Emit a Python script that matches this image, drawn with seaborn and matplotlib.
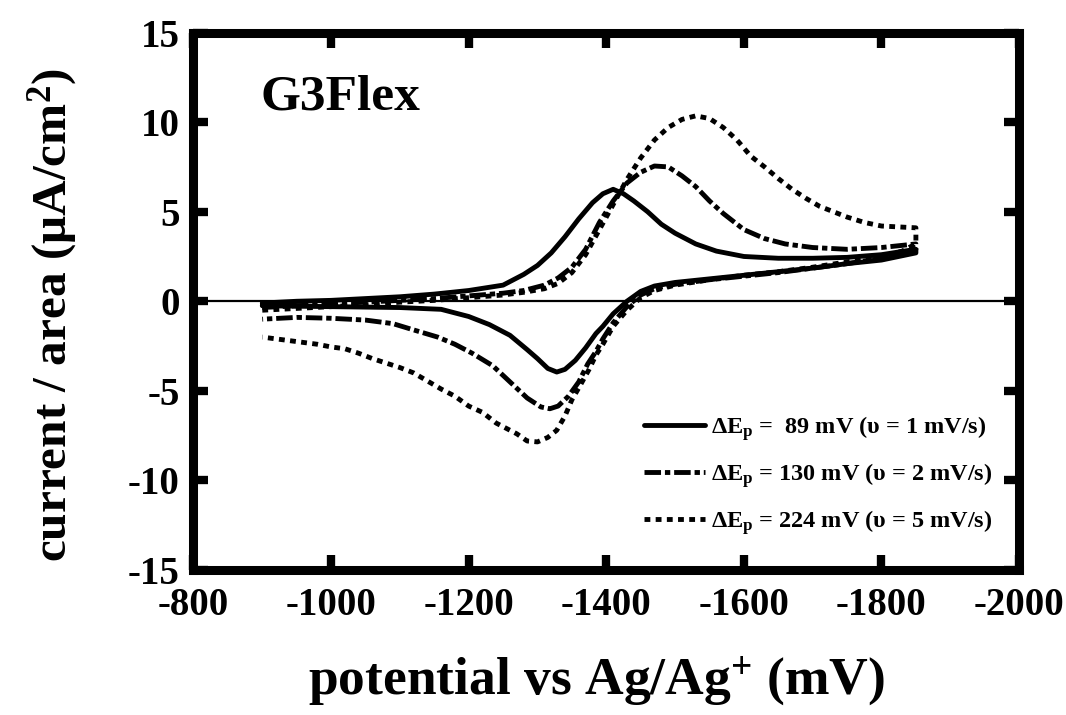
import numpy as np
import pandas as pd
import matplotlib
matplotlib.use("Agg")
import matplotlib.pyplot as plt
import seaborn as sns

# ---- cyclic voltammograms of G3Flex at three scan rates ----
# forward sweep (-900 -> -1850 mV) and return sweep (-1850 -> -900 mV)
fwd_1_E = [-900, -950, -1000, -1050, -1100, -1150, -1200, -1250, -1280, -1300,
           -1320, -1340, -1360, -1380, -1395, -1410, -1425, -1440, -1460, -1480,
           -1500, -1530, -1560, -1600, -1650, -1700, -1750, -1800, -1850]
fwd_1_i = [-0.1, 0.0, 0.05, 0.15, 0.25, 0.4, 0.6, 0.9, 1.5, 2.0,
           2.7, 3.6, 4.6, 5.5, 6.0, 6.25, 6.0, 5.6, 5.0, 4.3,
           3.8, 3.2, 2.8, 2.5, 2.4, 2.4, 2.45, 2.6, 2.9]
rev_1_E = [-1850, -1800, -1750, -1700, -1650, -1600, -1550, -1500, -1470, -1450,
           -1430, -1410, -1395, -1385, -1370, -1355, -1340, -1328, -1315, -1300,
           -1285, -1260, -1230, -1200, -1160, -1100, -1000, -900]
rev_1_i = [2.7, 2.3, 2.1, 1.85, 1.65, 1.45, 1.25, 1.05, 0.85, 0.55,
           0.0, -0.7, -1.4, -1.8, -2.6, -3.3, -3.8, -3.95, -3.75, -3.2,
           -2.7, -1.9, -1.3, -0.85, -0.45, -0.35, -0.3, -0.25]

fwd_2_E = [-900, -950, -1000, -1050, -1100, -1150, -1200, -1250, -1280, -1310,
           -1330, -1350, -1370, -1390, -1410, -1430, -1450, -1470, -1490, -1510,
           -1530, -1550, -1570, -1600, -1630, -1660, -1700, -1750, -1800, -1850]
fwd_2_i = [-0.35, -0.25, -0.15, -0.05, 0.05, 0.15, 0.3, 0.45, 0.6, 0.9,
           1.3, 1.9, 2.9, 4.4, 5.6, 6.6, 7.2, 7.55, 7.5, 7.0,
           6.4, 5.6, 4.9, 4.0, 3.5, 3.2, 3.0, 2.9, 3.0, 3.2]
rev_2_E = [-1850, -1800, -1750, -1700, -1650, -1600, -1550, -1500, -1470, -1450,
           -1430, -1410, -1395, -1385, -1373, -1360, -1345, -1330, -1318, -1305,
           -1285, -1260, -1235, -1205, -1180, -1155, -1120, -1090, -1050, -1000,
           -950, -900]
rev_2_i = [2.9, 2.4, 2.1, 1.85, 1.6, 1.4, 1.2, 0.95, 0.7, 0.35,
           -0.3, -1.2, -2.1, -2.8, -3.5, -4.5, -5.3, -5.85, -6.0, -5.9,
           -5.4, -4.5, -3.6, -2.9, -2.4, -2.0, -1.6, -1.25, -1.05, -0.95,
           -0.9, -1.0]

fwd_5_E = [-900, -950, -1000, -1050, -1100, -1150, -1200, -1250, -1280, -1310,
           -1330, -1350, -1370, -1390, -1410, -1430, -1450, -1470, -1490, -1510,
           -1530, -1550, -1570, -1590, -1610, -1630, -1650, -1670, -1690, -1710,
           -1730, -1750, -1775, -1800, -1825, -1850]
fwd_5_i = [-0.5, -0.4, -0.3, -0.2, -0.05, 0.05, 0.2, 0.35, 0.5, 0.7,
           1.0, 1.6, 2.6, 4.0, 5.4, 6.8, 8.0, 9.0, 9.7, 10.15,
           10.35, 10.2, 9.7, 9.0, 8.1, 7.5, 6.85, 6.25, 5.75, 5.3,
           5.0, 4.7, 4.4, 4.2, 4.15, 4.1]
rev_5_E = [-1850, -1830, -1800, -1750, -1700, -1650, -1600, -1550, -1500, -1470,
           -1450, -1430, -1410, -1395, -1385, -1375, -1362, -1350, -1340, -1328,
           -1315, -1300, -1285, -1270, -1255, -1240, -1220, -1200, -1180, -1160,
           -1140, -1120, -1100, -1080, -1060, -1040, -1020, -1000, -980, -960,
           -940, -920, -900]
rev_5_i = [3.2, 2.8, 2.5, 2.2, 1.9, 1.65, 1.45, 1.2, 0.9, 0.6,
           0.2, -0.5, -1.4, -2.4, -3.0, -3.8, -4.7, -5.5, -6.4, -7.2,
           -7.6, -7.85, -7.8, -7.4, -7.1, -6.8, -6.2, -5.85, -5.3, -4.9,
           -4.45, -4.0, -3.7, -3.45, -3.2, -2.9, -2.65, -2.55, -2.4, -2.3,
           -2.2, -2.1, -2.0]

labels = ["ΔE$_\\mathregular{p}$ =  89 mV (υ = 1 mV/s)",
          "ΔE$_\\mathregular{p}$ = 130 mV (υ = 2 mV/s)",
          "ΔE$_\\mathregular{p}$ = 224 mV (υ = 5 mV/s)"]

x_ticks = [-800, -1000, -1200, -1400, -1600, -1800, -2000]
y_ticks = [-15, -10, -5, 0, 5, 10, 15]

sns.set_theme(style="ticks")
plt.rcParams["font.family"] = ["Liberation Serif", "DejaVu Serif"]
plt.rcParams["font.weight"] = "bold"
plt.rcParams["mathtext.fontset"] = "custom"
plt.rcParams["mathtext.rm"] = "Liberation Serif:bold"
plt.rcParams["mathtext.bf"] = "Liberation Serif:bold"
plt.rcParams["mathtext.it"] = "Liberation Serif:bold:italic"
for key in ["text.color", "axes.labelcolor", "xtick.color", "ytick.color",
            "axes.edgecolor"]:
    plt.rcParams[key] = "black"

fig = plt.figure(figsize=(10.66, 7.15), dpi=100)
ax = fig.add_axes([0.1815, 0.2028, 0.7745, 0.7517])

series = [
    (fwd_1_E + rev_1_E, fwd_1_i + rev_1_i, labels[0], "-"),
    (fwd_2_E + rev_2_E, fwd_2_i + rev_2_i, labels[1], (0, (3.4, 0.8, 1.1, 0.8))),
    (fwd_5_E + rev_5_E, fwd_5_i + rev_5_i, labels[2], (0, (1.2, 1.1))),
]
for E, i, lab, ls in series:
    df = pd.DataFrame({"E": E, "i": i})
    sns.lineplot(data=df, x="E", y="i", sort=False, estimator=None, ax=ax,
                 color="black", linewidth=3.5, linestyle=ls, label=lab)

ax.axhline(0, color="black", linewidth=1.6, zorder=1)

ax.set_xlim(-800, -2000)
ax.set_ylim(-15, 15)
ax.set_xticks(x_ticks)
ax.set_yticks(y_ticks)
ax.set_xticklabels([str(v) for v in x_ticks])
ax.set_yticklabels([str(v) for v in y_ticks])
ax.tick_params(axis="both", direction="in", length=10.5, width=6,
               labelsize=28, top=True, right=True, colors="black")
ax.tick_params(axis="x", pad=12)
ax.tick_params(axis="y", pad=10)
for s in ax.spines.values():
    s.set_linewidth(6.5)
    s.set_color("black")

ax.set_xlabel("potential vs Ag/Ag$^\\mathregular{+}$ (mV)", fontsize=38.5,
              fontweight="bold")
ax.xaxis.set_label_coords(0.488, -0.158)
ax.set_ylabel("current / area (μA/cm$^\\mathregular{2}$)", fontsize=35.5,
              fontweight="bold")
ax.yaxis.set_label_coords(-0.138, 0.475)

ax.text(0.081, 0.856, "G3Flex", transform=ax.transAxes, fontsize=37,
        fontweight="bold", ha="left", va="baseline")

leg = ax.legend(loc="lower right", bbox_to_anchor=(0.985, 0.035), frameon=False,
                prop={"size": 17.5, "weight": "bold"}, handlelength=2.5,
                handletextpad=0.25, labelspacing=0.75, borderaxespad=0.2)

fig.savefig("out.png", dpi=100)
